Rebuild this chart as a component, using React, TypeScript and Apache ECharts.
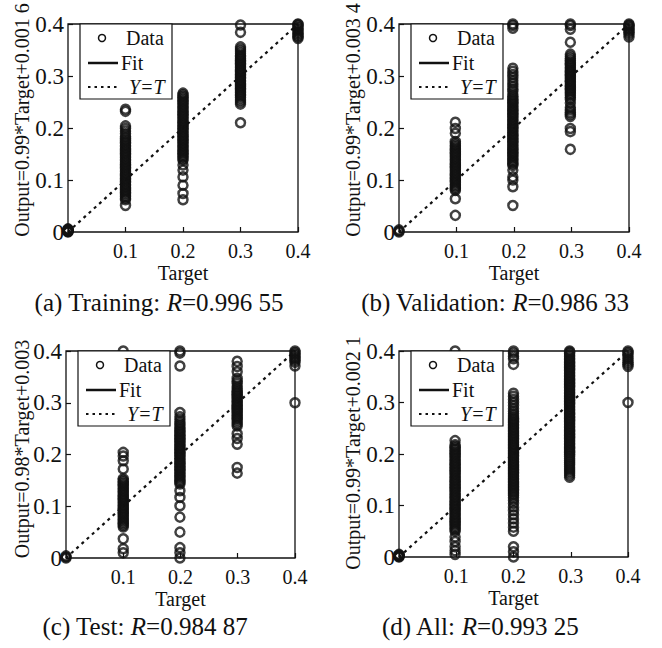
import React, { useEffect, useRef } from "react";
import * as echarts from "echarts";

const FONT = "'Liberation Serif', 'Times New Roman', Times, serif";

// Tick labels
const xTickValues = [0, 0.1, 0.2, 0.3, 0.4];
const yTickValues = [0, 0.1, 0.2, 0.3, 0.4];

// Panel texts
const panelCaptions = [
  ["(a) Training: ", "0.996 55"],
  ["(b) Validation: ", "0.986 33"],
  ["(c) Test: ", "0.984 87"],
  ["(d) All: ", "0.993 25"],
];
const yAxisNames = [
  "Output=0.99*Target+0.001 6",
  "Output=0.99*Target+0.003 4",
  "Output=0.98*Target+0.003",
  "Output=0.99*Target+0.002 1",
];
const legendLabels = ["Data", "Fit", "Y=T"];

// Identity line Y = T
const identityLine = [
  [0, 0],
  [0.4, 0.4],
];

// Target column positions (x) per panel
const trainingTargets = [0, 0.1, 0.2, 0.3, 0.4];
const validationTargets = [0, 0.098, 0.198, 0.298, 0.4];
const testTargets = [0, 0.1, 0.199, 0.299, 0.4];
const allTargets = [0, 0.098, 0.2, 0.298, 0.4];

// Outputs (y) for each target column
const trainingOutputs = [
  [0, 0.001, 0.002, 0.003, 0.004, 0.005, 0.006, 0.0015, 0.0035],
  [0.051, 0.232, 0.236, 0.062, 0.065, 0.068, 0.071, 0.074, 0.077, 0.08, 0.083, 0.086, 0.089, 0.092, 0.095, 0.098, 0.101, 0.104, 0.107, 0.11, 0.113, 0.116, 0.119, 0.122, 0.125, 0.128, 0.131, 0.134, 0.137, 0.14, 0.143, 0.146, 0.149, 0.152, 0.155, 0.158, 0.161, 0.164, 0.167, 0.17, 0.173, 0.176, 0.18, 0.184, 0.189, 0.194, 0.199, 0.204],
  [0.062, 0.074, 0.09, 0.106, 0.119, 0.129, 0.138, 0.141, 0.144, 0.147, 0.15, 0.153, 0.156, 0.159, 0.162, 0.165, 0.168, 0.171, 0.174, 0.177, 0.18, 0.183, 0.186, 0.189, 0.192, 0.195, 0.198, 0.201, 0.204, 0.207, 0.21, 0.213, 0.216, 0.219, 0.222, 0.225, 0.228, 0.231, 0.234, 0.237, 0.24, 0.243, 0.246, 0.249, 0.252, 0.255, 0.258, 0.261, 0.264, 0.267],
  [0.21, 0.384, 0.398, 0.246, 0.25, 0.254, 0.258, 0.262, 0.265, 0.268, 0.271, 0.274, 0.277, 0.28, 0.283, 0.286, 0.289, 0.292, 0.295, 0.298, 0.301, 0.304, 0.307, 0.31, 0.313, 0.316, 0.319, 0.322, 0.325, 0.328, 0.331, 0.334, 0.337, 0.34, 0.344, 0.348, 0.352, 0.356],
  [0.372, 0.375, 0.378, 0.381, 0.384, 0.387, 0.39, 0.393, 0.396, 0.399, 0.4],
];
const validationOutputs = [
  [0, 0.002, 0.004],
  [0.032, 0.064, 0.19, 0.199, 0.211, 0.08, 0.083, 0.086, 0.089, 0.092, 0.095, 0.098, 0.101, 0.104, 0.107, 0.11, 0.113, 0.116, 0.119, 0.122, 0.125, 0.128, 0.131, 0.134, 0.137, 0.14, 0.143, 0.146, 0.149, 0.152, 0.155, 0.158, 0.161, 0.164, 0.167, 0.17, 0.174],
  [0.051, 0.087, 0.1, 0.106, 0.119, 0.392, 0.397, 0.4, 0.128, 0.131, 0.134, 0.137, 0.14, 0.143, 0.146, 0.149, 0.152, 0.155, 0.158, 0.161, 0.164, 0.167, 0.17, 0.173, 0.176, 0.179, 0.182, 0.185, 0.188, 0.191, 0.194, 0.197, 0.2, 0.203, 0.206, 0.209, 0.212, 0.215, 0.218, 0.221, 0.224, 0.227, 0.23, 0.233, 0.236, 0.239, 0.242, 0.245, 0.248, 0.251, 0.254, 0.257, 0.261, 0.265, 0.27, 0.275, 0.28, 0.286, 0.291, 0.297, 0.303, 0.309, 0.315],
  [0.159, 0.193, 0.199, 0.365, 0.39, 0.397, 0.4, 0.248, 0.222, 0.226, 0.23, 0.235, 0.24, 0.255, 0.259, 0.263, 0.266, 0.269, 0.272, 0.275, 0.278, 0.281, 0.284, 0.287, 0.29, 0.293, 0.296, 0.299, 0.302, 0.305, 0.308, 0.311, 0.314, 0.317, 0.32, 0.323, 0.326, 0.33, 0.334, 0.338, 0.342],
  [0.375, 0.38, 0.384, 0.387, 0.39, 0.393, 0.396, 0.398, 0.4],
];
const testOutputs = [
  [0, 0.002, 0.004],
  [0.01, 0.018, 0.037, 0.172, 0.188, 0.197, 0.204, 0.4, 0.06, 0.063, 0.066, 0.069, 0.072, 0.075, 0.078, 0.081, 0.084, 0.087, 0.09, 0.093, 0.096, 0.099, 0.102, 0.105, 0.108, 0.111, 0.114, 0.117, 0.12, 0.123, 0.126, 0.129, 0.132, 0.135, 0.138, 0.141, 0.144, 0.147, 0.15, 0.153],
  [0, 0.01, 0.02, 0.05, 0.079, 0.101, 0.117, 0.13, 0.371, 0.396, 0.4, 0.143, 0.146, 0.149, 0.152, 0.155, 0.158, 0.161, 0.164, 0.167, 0.17, 0.173, 0.176, 0.179, 0.182, 0.185, 0.188, 0.191, 0.194, 0.197, 0.2, 0.203, 0.206, 0.209, 0.212, 0.215, 0.218, 0.221, 0.224, 0.227, 0.23, 0.233, 0.236, 0.239, 0.242, 0.245, 0.248, 0.251, 0.255, 0.259, 0.263, 0.268, 0.273, 0.281],
  [0.164, 0.175, 0.22, 0.231, 0.24, 0.36, 0.37, 0.38, 0.255, 0.259, 0.263, 0.267, 0.27, 0.273, 0.276, 0.279, 0.282, 0.285, 0.288, 0.291, 0.294, 0.297, 0.3, 0.303, 0.306, 0.309, 0.312, 0.315, 0.318, 0.321, 0.324, 0.328, 0.332, 0.337, 0.342, 0.347],
  [0.3, 0.371, 0.378, 0.382, 0.385, 0.388, 0.391, 0.394, 0.397, 0.4],
];
const allOutputs = [
  [0, 0.001, 0.002, 0.003, 0.004, 0.005],
  [0.4, 0.226, 0.005, 0.012, 0.02, 0.03, 0.039, 0.05, 0.053, 0.056, 0.059, 0.062, 0.065, 0.068, 0.071, 0.074, 0.077, 0.08, 0.083, 0.086, 0.089, 0.092, 0.095, 0.098, 0.101, 0.104, 0.107, 0.11, 0.113, 0.116, 0.119, 0.122, 0.125, 0.128, 0.131, 0.134, 0.137, 0.14, 0.143, 0.146, 0.149, 0.152, 0.155, 0.158, 0.161, 0.164, 0.167, 0.17, 0.173, 0.176, 0.179, 0.182, 0.185, 0.188, 0.191, 0.194, 0.197, 0.2, 0.203, 0.206, 0.209, 0.212, 0.215, 0.218],
  [0, 0.01, 0.02, 0.374, 0.385, 0.39, 0.396, 0.4, 0.05, 0.058, 0.066, 0.074, 0.082, 0.09, 0.097, 0.104, 0.11, 0.115, 0.12, 0.123, 0.126, 0.129, 0.132, 0.135, 0.138, 0.141, 0.144, 0.147, 0.15, 0.153, 0.156, 0.159, 0.162, 0.165, 0.168, 0.171, 0.174, 0.177, 0.18, 0.183, 0.186, 0.189, 0.192, 0.195, 0.198, 0.201, 0.204, 0.207, 0.21, 0.213, 0.216, 0.219, 0.222, 0.225, 0.228, 0.231, 0.234, 0.237, 0.24, 0.243, 0.246, 0.249, 0.252, 0.255, 0.258, 0.261, 0.264, 0.267, 0.27, 0.274, 0.278, 0.283, 0.288, 0.294, 0.3, 0.306, 0.312, 0.318],
  [0.155, 0.159, 0.163, 0.167, 0.171, 0.175, 0.179, 0.183, 0.187, 0.191, 0.195, 0.199, 0.203, 0.206, 0.209, 0.212, 0.215, 0.218, 0.221, 0.224, 0.227, 0.23, 0.233, 0.236, 0.239, 0.242, 0.245, 0.248, 0.251, 0.254, 0.257, 0.26, 0.263, 0.266, 0.269, 0.272, 0.275, 0.278, 0.281, 0.284, 0.287, 0.29, 0.293, 0.296, 0.299, 0.302, 0.305, 0.308, 0.311, 0.314, 0.317, 0.32, 0.323, 0.326, 0.329, 0.332, 0.335, 0.338, 0.341, 0.344, 0.347, 0.35, 0.353, 0.356, 0.359, 0.362, 0.365, 0.368, 0.371, 0.374, 0.377, 0.38, 0.383, 0.386, 0.389, 0.392, 0.395, 0.398, 0.4],
  [0.3, 0.37, 0.374, 0.378, 0.382, 0.386, 0.39, 0.394, 0.397, 0.4],
];

const panelTargets = [trainingTargets, validationTargets, testTargets, allTargets];
const panelOutputs = [trainingOutputs, validationOutputs, testOutputs, allOutputs];

// layout (not data)
const grids = [
  { left: 68, top: 24, width: 230, height: 208 },
  { left: 399, top: 24, width: 230, height: 208 },
  { left: 66, top: 351, width: 229, height: 207 },
  { left: 399, top: 351, width: 229, height: 206 },
];
const yNamePos = [
  [22, 120],
  [353, 120],
  [22, 449],
  [353, 453],
];
const captionPos = [
  [159, 302],
  [495, 302],
  [145, 626],
  [480, 626],
];

const INK = "#111";

function buildOption() {
  const xAxis: any[] = [];
  const yAxis: any[] = [];
  const series: any[] = [];
  const graphic: any[] = [];

  grids.forEach((g, i) => {
    xAxis.push({
      type: "value",
      gridIndex: i,
      min: xTickValues[0],
      max: xTickValues[xTickValues.length - 1],
      interval: 0.1,
      name: "Target",
      nameLocation: "middle",
      nameGap: 31,
      nameTextStyle: { fontFamily: FONT, fontSize: 20, color: INK },
      axisLine: { show: false },
      axisTick: { show: true, inside: true, length: 5, lineStyle: { color: INK, width: 1.2 } },
      splitLine: { show: false },
      axisLabel: {
        fontFamily: FONT,
        fontSize: 20,
        color: INK,
        margin: 9,
        formatter: (v: number) => (Math.abs(v) < 1e-9 ? "" : String(+v.toFixed(1))),
      },
    });
    yAxis.push({
      type: "value",
      gridIndex: i,
      min: yTickValues[0],
      max: yTickValues[yTickValues.length - 1],
      interval: 0.1,
      axisLine: { show: false },
      axisTick: { show: true, inside: true, length: 5, lineStyle: { color: INK, width: 1.2 } },
      splitLine: { show: false },
      axisLabel: {
        fontFamily: FONT,
        fontSize: 23,
        color: INK,
        margin: 4,
        formatter: (v: number) => String(+v.toFixed(1)),
      },
    });

    series.push({
      type: "line",
      xAxisIndex: i,
      yAxisIndex: i,
      data: identityLine,
      symbol: "none",
      silent: true,
      z: 1,
      lineStyle: { color: INK, width: 2.2, type: [3, 4] },
    });

    const targets = panelTargets[i];
    const outputs = panelOutputs[i];
    const pts: number[][] = [];
    outputs.forEach((col, ci) => {
      col.forEach((y) => pts.push([targets[ci], y]));
    });
    series.push({
      type: "scatter",
      xAxisIndex: i,
      yAxisIndex: i,
      data: pts,
      symbol: "circle",
      symbolSize: 9,
      clip: false,
      z: 2,
      itemStyle: { color: "transparent", borderColor: "#111", borderWidth: 2.5 },
    });

    // y axis name
    graphic.push({
      type: "text",
      x: yNamePos[i][0],
      y: yNamePos[i][1],
      rotation: Math.PI / 2,
      style: {
        text: yAxisNames[i],
        fontFamily: FONT,
        fontSize: 20,
        fill: INK,
        align: "center",
        verticalAlign: "middle",
      },
    });

    // caption
    graphic.push({
      type: "text",
      x: captionPos[i][0],
      y: captionPos[i][1],
      style: {
        text: panelCaptions[i][0] + "{i|R}=" + panelCaptions[i][1],
        fontFamily: FONT,
        fontSize: 25,
        fill: INK,
        align: "center",
        verticalAlign: "middle",
        rich: {
          i: { fontFamily: FONT, fontSize: 25, fontStyle: "italic", fill: INK },
        },
      },
    });

    // legend box
    graphic.push({
      type: "group",
      x: g.left + 12,
      y: g.top,
      z: 100,
      children: [
        {
          type: "rect",
          shape: { x: 0, y: 0, width: 92, height: 75 },
          style: { fill: "#fff", stroke: INK, lineWidth: 1.2 },
          z: 100,
        },
        {
          type: "circle",
          shape: { cx: 22, cy: 14, r: 3.5 },
          style: { fill: "none", stroke: INK, lineWidth: 1.5 },
          z: 101,
        },
        {
          type: "line",
          shape: { x1: 8, y1: 39, x2: 38, y2: 39 },
          style: { stroke: INK, lineWidth: 2.5 },
          z: 101,
        },
        {
          type: "line",
          shape: { x1: 8, y1: 63, x2: 38, y2: 63 },
          style: { stroke: INK, lineWidth: 2.2, lineDash: [2.5, 4] },
          z: 101,
        },
        {
          type: "text",
          x: 46,
          y: 14,
          z: 101,
          style: { text: legendLabels[0], fontFamily: FONT, fontSize: 20, fill: INK, verticalAlign: "middle" },
        },
        {
          type: "text",
          x: 41,
          y: 39,
          z: 101,
          style: { text: legendLabels[1], fontFamily: FONT, fontSize: 20, fill: INK, verticalAlign: "middle" },
        },
        {
          type: "text",
          x: 49,
          y: 63,
          z: 101,
          style: {
            text: legendLabels[2],
            fontFamily: FONT,
            fontSize: 20,
            fontStyle: "italic",
            fill: INK,
            verticalAlign: "middle",
          },
        },
      ],
    });
  });

  return {
    animation: false,
    backgroundColor: "#fff",
    grid: grids.map((g) => ({
      ...g,
      show: true,
      borderColor: INK,
      borderWidth: 1.3,
      backgroundColor: "transparent",
      containLabel: false,
    })),
    xAxis,
    yAxis,
    series,
    graphic,
  };
}

export default function App() {
  const ref = useRef<HTMLDivElement>(null);
  useEffect(() => {
    document.body.style.margin = "0";
    if (!ref.current) return;
    const chart = echarts.init(ref.current, null, { renderer: "svg" });
    chart.setOption(buildOption() as any);
    return () => chart.dispose();
  }, []);
  return <div ref={ref} style={{ width: 662, height: 648, background: "#fff" }} />;
}
